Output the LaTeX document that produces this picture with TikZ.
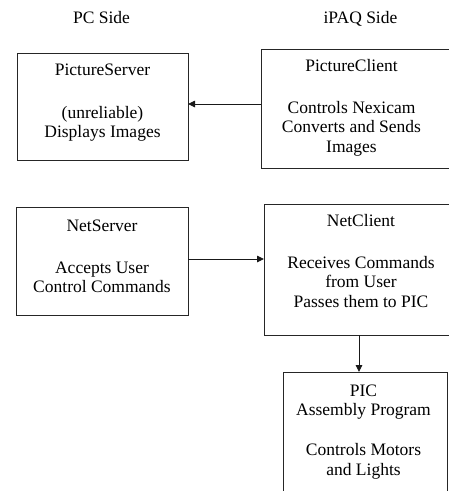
\documentclass[tikz,border=0pt]{standalone}
\usepackage{fontspec}
\setmainfont{Liberation Serif}
\usetikzlibrary{arrows.meta}
\tikzset{
  box/.style={draw=black!85, line width=0.9pt, rectangle, inner sep=0pt, outer sep=0pt},
  lbl/.style={anchor=base, inner sep=0pt, font=\fontsize{17.5}{19.5}\selectfont},
  arr/.style={draw=black!90, line width=0.9pt, -{Triangle[length=7pt,width=6.5pt]}}
}
\begin{document}
\begin{tikzpicture}[x=1pt,y=-1pt]
\useasboundingbox (0,0) rectangle (449,491);
\clip (0,0) rectangle (449,491);
% boxes
\node[box, minimum width=171pt, minimum height=107pt] (ps) at (102.5,106.5) {};
\node[box, minimum width=199pt, minimum height=119pt] (pc) at (360.5,108.5) {};
\node[box, minimum width=172pt, minimum height=108pt] (ns) at (102,261) {};
\node[box, minimum width=196pt, minimum height=131pt] (nc) at (362,269.5) {};
\node[box, minimum width=164pt, minimum height=128pt] (pic) at (365,436) {};
% helper coordinates for connector heights
\coordinate (y1) at (0,104);
\coordinate (y2) at (0,259);
\coordinate (x3) at (359,0);
% connectors
\draw[arr] (pc.west |- y1) -- (ps.east |- y1);
\draw[arr] (ns.east |- y2) -- (nc.west |- y2);
\draw[arr] (x3 |- nc.south) -- (x3 |- pic.north);
% headings
\node[lbl] (h1) at (101.5,23.5) {PC Side};
\node[lbl] (h2) at (360.5,23.5) {iPAQ Side};
% PictureServer
\node[lbl] (ps1) at (102.5,75.5) {PictureServer};
\node[lbl] (ps2) at (102.5,118) {(unreliable)};
\node[lbl] (ps3) at (102.5,137.5) {Displays Images};
% PictureClient
\node[lbl] (pc1) at (351.5,71) {PictureClient};
\node[lbl] (pc2) at (351.5,113) {Controls Nexicam};
\node[lbl] (pc3) at (351.5,132.5) {Converts and Sends};
\node[lbl] (pc4) at (351.5,152) {Images};
% NetServer
\node[lbl] (ns1) at (102,231) {NetServer};
\node[lbl] (ns2) at (102,273) {Accepts User};
\node[lbl] (ns3) at (102,292.5) {Control Commands};
% NetClient
\node[lbl] (nc1) at (361,226) {NetClient};
\node[lbl] (nc2) at (361,268) {Receives Commands};
\node[lbl] (nc3) at (361,287.5) {from User};
\node[lbl] (nc4) at (361,307) {Passes them to PIC};
% PIC
\node[lbl] (pi1) at (363.5,396) {PIC};
\node[lbl] (pi2) at (363.5,415.5) {Assembly Program};
\node[lbl] (pi3) at (363.5,455.5) {Controls Motors};
\node[lbl] (pi4) at (363.5,475) {and Lights};
\end{tikzpicture}
\end{document}
